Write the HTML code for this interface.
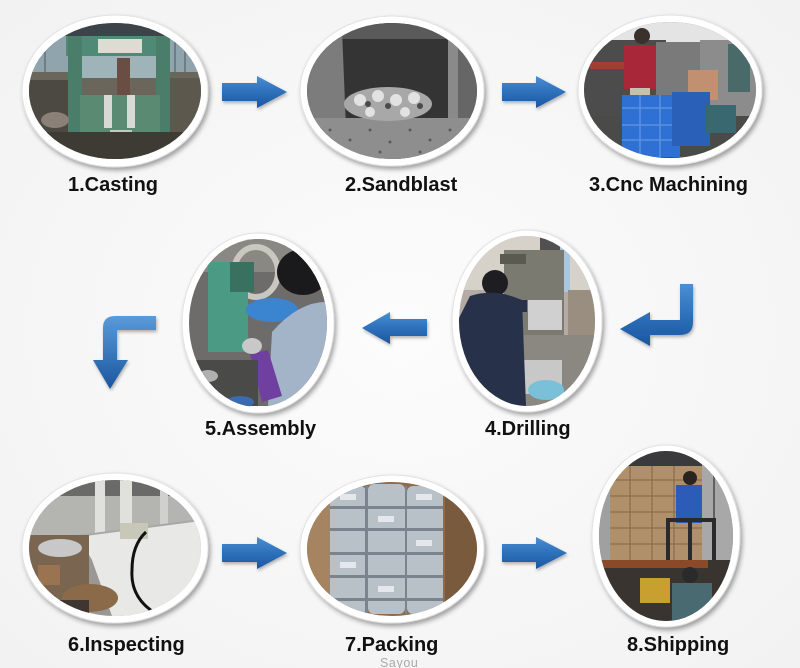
<!DOCTYPE html>
<html><head><meta charset="utf-8"><style>
html,body{margin:0;padding:0;background:#f8f8f8;}
svg{display:block;}
text{font-family:"Liberation Sans",Arial,sans-serif;}
</style></head><body>
<svg width="800" height="668" viewBox="0 0 800 668" xmlns="http://www.w3.org/2000/svg">
<defs>
<radialGradient id="bg" cx="50%" cy="50%" r="70%"><stop offset="0" stop-color="#fcfcfc"/><stop offset="1" stop-color="#f2f2f2"/></radialGradient>
<filter id="sh" x="-20%" y="-20%" width="140%" height="140%"><feDropShadow dx="2" dy="3" stdDeviation="2.5" flood-color="#000" flood-opacity="0.35"/></filter>
<filter id="ash" x="-20%" y="-30%" width="140%" height="160%"><feDropShadow dx="1" dy="2" stdDeviation="1.5" flood-color="#000" flood-opacity="0.3"/></filter>
<linearGradient id="ga" x1="0" y1="0" x2="0" y2="1"><stop offset="0" stop-color="#4a8ed4"/><stop offset="0.5" stop-color="#2e70ba"/><stop offset="1" stop-color="#1a56a0"/></linearGradient>
<linearGradient id="gd" x1="0" y1="0" x2="0" y2="1"><stop offset="0" stop-color="#5a9ad8"/><stop offset="1" stop-color="#1a56a0"/></linearGradient>
<clipPath id="c1"><ellipse cx="115" cy="91" rx="86" ry="68"/></clipPath>
<clipPath id="c2"><ellipse cx="392" cy="91" rx="85" ry="68"/></clipPath>
<clipPath id="c3"><ellipse cx="670" cy="90" rx="86" ry="68"/></clipPath>
<clipPath id="c4"><ellipse cx="527" cy="321" rx="68" ry="85"/></clipPath>
<clipPath id="c5"><ellipse cx="258" cy="323" rx="69" ry="84"/></clipPath>
<clipPath id="c6"><ellipse cx="115" cy="548" rx="86" ry="68"/></clipPath>
<clipPath id="c7"><ellipse cx="392" cy="549" rx="85" ry="67"/></clipPath>
<clipPath id="c8"><ellipse cx="666" cy="536" rx="67" ry="85"/></clipPath>
</defs>
<rect width="800" height="668" fill="url(#bg)"/>

<!-- frames -->
<g fill="#ffffff" stroke="#e2e2e2" stroke-width="1" filter="url(#sh)">
<ellipse cx="115" cy="91" rx="93" ry="76"/>
<ellipse cx="392" cy="91" rx="92" ry="75"/>
<ellipse cx="670" cy="90" rx="92" ry="75"/>
<ellipse cx="527" cy="321" rx="75" ry="91"/>
<ellipse cx="258" cy="323" rx="76" ry="90"/>
<ellipse cx="115" cy="548" rx="93" ry="75"/>
<ellipse cx="392" cy="549" rx="92" ry="74"/>
<ellipse cx="666" cy="536" rx="74" ry="91"/>
</g>

<!-- Photo 1 Casting -->
<g clip-path="url(#c1)">
<rect x="29" y="23" width="172" height="136" fill="#5e5a50"/>
<rect x="29" y="23" width="172" height="13" fill="#3c444a"/>
<rect x="29" y="36" width="172" height="44" fill="#8fa4ac"/>
<g stroke="#6e7e86" stroke-width="2"><line x1="45" y1="36" x2="45" y2="80"/><line x1="185" y1="36" x2="185" y2="80"/><line x1="175" y1="36" x2="175" y2="80"/></g>
<rect x="29" y="72" width="172" height="30" fill="#6a665c"/>
<rect x="29" y="80" width="42" height="60" fill="#4c4842"/>
<rect x="168" y="78" width="33" height="60" fill="#5c584e"/>
<rect x="82" y="56" width="74" height="22" fill="#9fb4b8"/>
<rect x="66" y="36" width="104" height="20" fill="#4e8a76"/>
<rect x="98" y="39" width="44" height="14" fill="#dcdcd2"/>
<rect x="68" y="36" width="14" height="110" fill="#4a7e6a"/>
<rect x="156" y="36" width="14" height="110" fill="#4a7e6a"/>
<rect x="117" y="58" width="13" height="40" fill="#6a4e44"/>
<rect x="80" y="95" width="80" height="40" fill="#5a8a72"/>
<rect x="104" y="95" width="8" height="33" fill="#d8d8d4"/>
<rect x="127" y="95" width="8" height="33" fill="#d8d8d4"/>
<rect x="110" y="130" width="22" height="8" fill="#c8c8c0"/>
<rect x="29" y="132" width="172" height="27" fill="#3e3a34"/>
<ellipse cx="55" cy="120" rx="14" ry="8" fill="#8a8078"/>
</g>

<!-- Photo 2 Sandblast -->
<g clip-path="url(#c2)">
<rect x="307" y="23" width="170" height="136" fill="#343434"/>
<rect x="307" y="23" width="170" height="16" fill="#5a5a5a"/>
<polygon points="307,23 342,30 346,128 307,150" fill="#7c7c7c"/>
<rect x="448" y="30" width="10" height="100" fill="#8a8a8a"/>
<rect x="458" y="23" width="19" height="136" fill="#666"/>
<rect x="307" y="118" width="170" height="41" fill="#8e8e8e"/>
<g fill="#5a5a5a"><circle cx="330" cy="130" r="1.5"/><circle cx="350" cy="140" r="1.5"/><circle cx="370" cy="130" r="1.5"/><circle cx="390" cy="142" r="1.5"/><circle cx="410" cy="130" r="1.5"/><circle cx="430" cy="140" r="1.5"/><circle cx="450" cy="130" r="1.5"/><circle cx="340" cy="150" r="1.5"/><circle cx="380" cy="152" r="1.5"/><circle cx="420" cy="152" r="1.5"/></g>
<ellipse cx="388" cy="104" rx="44" ry="17" fill="#a8a8a8"/>
<g fill="#e2e2e2"><circle cx="360" cy="100" r="6"/><circle cx="378" cy="96" r="6"/><circle cx="396" cy="100" r="6"/><circle cx="414" cy="98" r="6"/><circle cx="370" cy="112" r="5"/><circle cx="405" cy="112" r="5"/></g>
<g fill="#4a4a4a"><circle cx="368" cy="104" r="3"/><circle cx="388" cy="106" r="3"/><circle cx="420" cy="106" r="3"/></g>
</g>

<!-- Photo 3 CNC -->
<g clip-path="url(#c3)">
<rect x="584" y="22" width="172" height="137" fill="#6a6a6a"/>
<rect x="584" y="22" width="172" height="22" fill="#e4e4e4"/>
<rect x="584" y="40" width="82" height="85" fill="#4c4c4c"/>
<rect x="590" y="62" width="40" height="7" fill="#a04030"/>
<rect x="656" y="42" width="44" height="55" fill="#7a7a7a"/>
<rect x="700" y="40" width="56" height="78" fill="#8c8c8c"/>
<rect x="688" y="70" width="30" height="30" fill="#c09070"/>
<rect x="728" y="44" width="22" height="48" fill="#4a6a6a"/>
<circle cx="642" cy="36" r="8" fill="#3a302c"/>
<rect x="624" y="45" width="32" height="44" fill="#a8283a"/>
<rect x="630" y="88" width="20" height="12" fill="#c8c0b0"/>
<rect x="584" y="116" width="172" height="43" fill="#4a4a48"/>
<rect x="622" y="95" width="58" height="62" fill="#2e70d4"/>
<g stroke="#5a90e0" stroke-width="1.5"><line x1="622" y1="108" x2="680" y2="108"/><line x1="622" y1="125" x2="680" y2="125"/><line x1="622" y1="140" x2="680" y2="140"/><line x1="640" y1="95" x2="640" y2="157"/><line x1="660" y1="95" x2="660" y2="157"/></g>
<rect x="672" y="92" width="38" height="54" fill="#2a60b8"/>
<rect x="706" y="105" width="30" height="28" fill="#3a6870"/>
</g>

<!-- Photo 4 Drilling -->
<g clip-path="url(#c4)">
<rect x="458" y="236" width="138" height="170" fill="#b4aca4"/>
<rect x="458" y="236" width="138" height="54" fill="#d6d2ca"/>
<rect x="540" y="236" width="20" height="26" fill="#505050"/>
<rect x="560" y="236" width="10" height="56" fill="#a8c8e0"/>
<rect x="504" y="250" width="60" height="92" fill="#7a7a70"/>
<rect x="500" y="254" width="26" height="10" fill="#5a5a50"/>
<rect x="528" y="300" width="34" height="30" fill="#d0d0d0"/>
<rect x="568" y="290" width="28" height="52" fill="#9a8e80"/>
<rect x="520" y="335" width="76" height="71" fill="#8a8880"/>
<rect x="522" y="360" width="40" height="34" fill="#c8c8c8"/>
<ellipse cx="546" cy="390" rx="18" ry="10" fill="#7ac0d8"/>
<circle cx="495" cy="283" r="13" fill="#1e1e22"/>
<path d="M470 296 Q495 288 522 300 L526 406 L458 406 L458 320 Z" fill="#27324a"/>
<rect x="505" y="300" width="22" height="12" fill="#27324a"/>
</g>

<!-- Photo 5 Assembly -->
<g clip-path="url(#c5)">
<rect x="188" y="238" width="140" height="168" fill="#6e6c6a"/>
<rect x="188" y="238" width="140" height="34" fill="#8a8882"/>
<ellipse cx="256" cy="272" rx="22" ry="25" fill="none" stroke="#c8c8c0" stroke-width="6"/>
<rect x="208" y="262" width="40" height="90" fill="#4a9a84"/>
<rect x="230" y="262" width="24" height="30" fill="#3a7060"/>
<ellipse cx="272" cy="310" rx="26" ry="12" fill="#3a84d0"/>
<ellipse cx="303" cy="272" rx="26" ry="23" fill="#1a1a1c"/>
<path d="M272 332 Q300 300 330 302 L330 406 L268 406 Z" fill="#a4b4c8"/>
<path d="M250 354 L268 350 L282 396 L262 402 Z" fill="#7040a0"/>
<ellipse cx="252" cy="346" rx="10" ry="8" fill="#c8c8c8"/>
<rect x="188" y="360" width="70" height="46" fill="#4a4a48"/>
<ellipse cx="208" cy="376" rx="10" ry="6" fill="#b0b0b0"/>
<ellipse cx="240" cy="402" rx="14" ry="6" fill="#3a6ab0"/>
</g>

<!-- Photo 6 Inspecting -->
<g clip-path="url(#c6)">
<rect x="29" y="480" width="172" height="136" fill="#9a9896"/>
<rect x="29" y="480" width="172" height="16" fill="#6a6a68"/>
<rect x="29" y="496" width="172" height="44" fill="#b4b4b0"/>
<rect x="95" y="480" width="10" height="60" fill="#e0e0dc"/>
<rect x="120" y="480" width="12" height="60" fill="#e0e0dc"/>
<rect x="160" y="490" width="8" height="45" fill="#d0d0cc"/>
<polygon points="78,536 201,520 201,598 150,616 112,616 92,560" fill="#e8e8e6"/>
<line x1="78" y1="536" x2="201" y2="520" stroke="#a8a8a4" stroke-width="2"/>
<rect x="120" y="523" width="28" height="16" fill="#c8c8b8"/>
<path d="M146 532 Q132 545 132 570 Q130 600 160 616" fill="none" stroke="#111" stroke-width="3"/>
<rect x="29" y="535" width="60" height="81" fill="#7a6650"/>
<ellipse cx="60" cy="548" rx="22" ry="9" fill="#c8c8c8"/>
<rect x="38" y="565" width="22" height="20" fill="#9a7450"/>
<ellipse cx="90" cy="598" rx="28" ry="14" fill="#8a6a48"/>
<rect x="29" y="600" width="60" height="16" fill="#3e3630"/>
</g>

<!-- Photo 7 Packing -->
<g clip-path="url(#c7)">
<rect x="307" y="482" width="170" height="134" fill="#8c6c4c"/>
<polygon points="307,500 330,488 330,616 307,616" fill="#a68462"/>
<rect x="445" y="482" width="32" height="134" fill="#7a5a3c"/>
<g fill="#b8c0c8">
<rect x="330" y="486" width="36" height="128" rx="6"/>
<rect x="368" y="484" width="37" height="130" rx="6"/>
<rect x="407" y="486" width="36" height="128" rx="6"/>
</g>
<g fill="#7a848e">
<rect x="330" y="506" width="113" height="3"/><rect x="330" y="528" width="113" height="3"/><rect x="330" y="552" width="113" height="3"/><rect x="330" y="575" width="113" height="3"/><rect x="330" y="598" width="113" height="3"/>
<rect x="365" y="486" width="3" height="128"/><rect x="405" y="486" width="2" height="128"/>
</g>
<g fill="#e4e8ec">
<rect x="340" y="494" width="16" height="6"/><rect x="378" y="516" width="16" height="6"/><rect x="416" y="540" width="16" height="6"/><rect x="340" y="562" width="16" height="6"/><rect x="378" y="586" width="16" height="6"/><rect x="416" y="494" width="16" height="6"/>
</g>
</g>

<!-- Photo 8 Shipping -->
<g clip-path="url(#c8)">
<rect x="598" y="451" width="136" height="170" fill="#8a7a68"/>
<rect x="598" y="451" width="136" height="18" fill="#3a3a3c"/>
<rect x="598" y="460" width="14" height="110" fill="#a0a0a0"/>
<rect x="610" y="466" width="92" height="96" fill="#b0906a"/>
<g stroke="#8a6c4c" stroke-width="1.2">
<line x1="610" y1="480" x2="702" y2="480"/><line x1="610" y1="496" x2="702" y2="496"/><line x1="610" y1="512" x2="702" y2="512"/><line x1="610" y1="528" x2="702" y2="528"/><line x1="610" y1="544" x2="702" y2="544"/>
<line x1="630" y1="466" x2="630" y2="562"/><line x1="652" y1="466" x2="652" y2="562"/><line x1="674" y1="466" x2="674" y2="562"/>
</g>
<rect x="702" y="455" width="32" height="115" fill="#a8a8a8"/>
<line x1="714" y1="470" x2="714" y2="560" stroke="#606060" stroke-width="2"/>
<circle cx="690" cy="478" r="7" fill="#2a2420"/>
<rect x="676" y="485" width="26" height="38" fill="#2c5cb8"/>
<g stroke="#2a2a2c" stroke-width="4" fill="none"><rect x="668" y="520" width="46" height="42"/><line x1="690" y1="520" x2="690" y2="562"/></g>
<rect x="598" y="560" width="136" height="61" fill="#3a3430"/>
<rect x="598" y="560" width="110" height="8" fill="#8a4a2a"/>
<rect x="640" y="578" width="30" height="25" fill="#c8a030"/>
<circle cx="690" cy="575" r="8" fill="#2a2a2a"/>
<rect x="672" y="583" width="40" height="38" fill="#4a6a72"/>
</g>

<!-- arrows -->
<g fill="url(#ga)" filter="url(#ash)">
<path d="M222,83 H257 V76 L287,92 L257,108 V101 H222 Z"/>
<path d="M502,83 H536 V76 L566,92 L536,108 V101 H502 Z"/>
<path d="M427,319 H390 V312 L362,328 L390,344 V336 H427 Z"/>
<path d="M680,284 H693 V322 Q693,335 680,335 H650 V346 L620,329 L650,312 V320 H680 Z"/>
<path d="M222,544 H257 V537 L287,553 L257,569 V562 H222 Z"/>
<path d="M502,544 H536 V537 L567,553 L536,569 V562 H502 Z"/>
</g>
<path d="M156,316 V330 H117 V360 H128 L110,389 L93,360 H103 V328 Q103,316 115,316 Z" fill="url(#gd)" filter="url(#ash)"/>

<!-- labels -->
<g font-size="20" font-weight="bold" fill="#111">
<text x="68" y="191">1.Casting</text>
<text x="345" y="191">2.Sandblast</text>
<text x="589" y="191">3.Cnc Machining</text>
<text x="205" y="435">5.Assembly</text>
<text x="485" y="435">4.Drilling</text>
<text x="68" y="651">6.Inspecting</text>
<text x="345" y="651">7.Packing</text>
<text x="627" y="651">8.Shipping</text>
</g>
<text x="380" y="667" font-size="12.5" letter-spacing="0.6" fill="#aaaaaa">Sayou</text>
</svg>
</body></html>
